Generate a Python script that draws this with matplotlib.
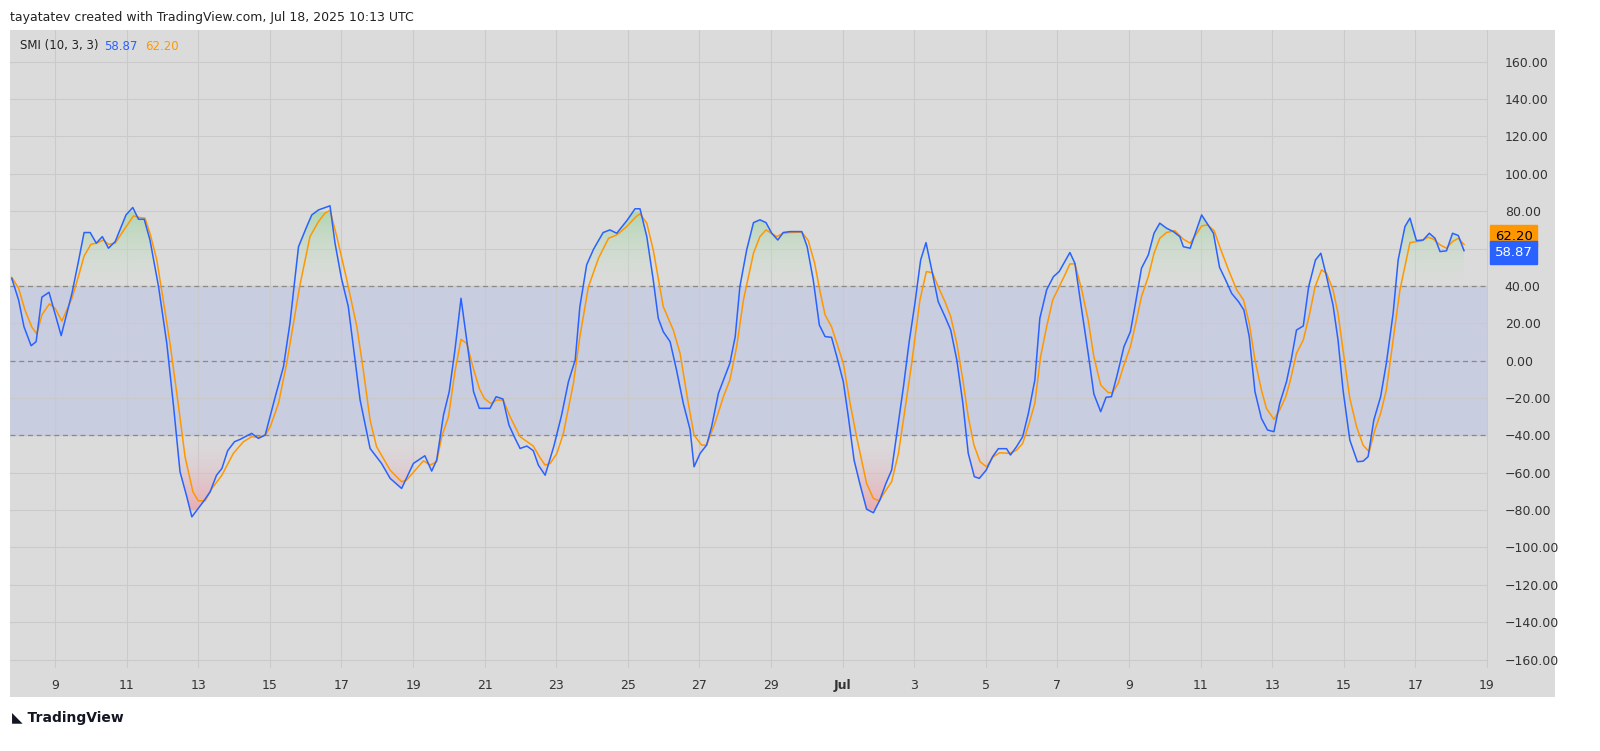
import numpy as np
import matplotlib
matplotlib.use("Agg")
import matplotlib.pyplot as plt
from matplotlib.path import Path
from matplotlib.patches import Rectangle

# day numbers: June d -> d, July d -> 30 + d
smi_t = [7.79,7.98,8.13,8.33,8.47,8.63,8.83,9.17,9.47,9.65,9.81,9.98,10.15,10.32,10.49,10.68,10.98,11.17,11.33,11.49,11.65,11.89,12.12,12.31,12.49,12.68,12.82,13.14,13.33,13.51,13.66,13.82,14.01,14.17,14.49,14.68,14.87,15.15,15.38,15.56,15.80,16.03,16.17,16.36,16.68,16.82,17.0,17.19,17.52,17.80,18.12,18.36,18.68,19.01,19.33,19.52,19.66,19.85,20.01,20.17,20.34,20.55,20.69,20.85,21.15,21.32,21.51,21.68,21.85,21.99,22.18,22.36,22.50,22.69,22.93,23.15,23.34,23.53,23.66,23.85,24.04,24.31,24.50,24.69,24.99,25.20,25.34,25.53,25.71,25.85,25.99,26.18,26.36,26.55,26.74,26.85,27.02,27.20,27.34,27.53,27.67,27.85,28.0,28.13,28.32,28.51,28.69,28.86,29.02,29.19,29.34,29.53,29.86,30.01,30.18,30.35,30.51,30.69,30.85,31.02,31.16,31.32,31.48,31.67,31.86,32.04,32.21,32.37,32.53,32.70,32.86,33.02,33.18,33.33,33.49,33.67,33.86,34.02,34.19,34.36,34.51,34.68,34.82,35.01,35.19,35.35,35.58,35.69,35.86,36.03,36.19,36.37,36.51,36.70,36.89,37.05,37.35,37.49,37.68,37.86,38.02,38.21,38.36,38.51,38.67,38.86,39.04,39.19,39.35,39.54,39.70,39.86,40.05,40.24,40.42,40.52,40.71,41.03,41.36,41.53,41.69,41.87,42.06,42.21,42.36,42.52,42.70,42.87,43.05,43.21,43.40,43.54,43.68,43.87,44.02,44.21,44.36,44.52,44.70,44.84,44.98,45.17,45.38,45.54,45.68,45.84,46.03,46.19,46.38,46.52,46.71,46.85,47.03,47.22,47.39,47.55,47.69,47.87,48.04,48.20,48.36]
smi_v = [44,32.5,18.2,8.0,10.2,34,36.6,13.4,36,53,68.6,68.6,62.9,66.4,60.2,63.8,78,82,75.7,75.7,64.6,39.6,9.3,-24.6,-59.5,-72.9,-83.6,-75.5,-70.2,-61.3,-57.7,-48.2,-43.4,-42.1,-38.9,-41.6,-39.8,-19.3,-3.2,20,61,71.8,78,80.7,82.9,62.9,44,29,-21,-47,-55,-63,-68.4,-55,-50.9,-59.1,-53.2,-29.1,-16.6,5.7,33.4,3.9,-16.6,-25.5,-25.5,-19.3,-20.5,-34.5,-41.6,-47,-45.7,-48.2,-55.9,-61.3,-46,-29.1,-11.3,0.4,28.9,51.3,59.6,68.6,70,68.2,75.4,81.3,81.3,66.4,43.2,22.7,15.5,10.2,-5,-22.9,-37,-56.8,-49.6,-45.2,-35.4,-17.5,-10.4,-1.4,12.9,39.6,59.3,73.9,75.4,73.9,68.2,64.6,68.6,69.1,69.1,61,43.2,19.1,12.9,12.5,1.3,-11.3,-30,-53.2,-65.7,-79.5,-81.4,-74.6,-65.7,-58.6,-37.1,-13.9,10.2,30.7,53.9,63.2,48.6,31.6,23.6,16.4,0.4,-22.9,-49.6,-62.1,-63,-58.6,-51.4,-47.1,-47.1,-50.5,-46,-40.7,-28.2,-10.4,22.7,37.9,45,47.7,57.9,52.1,27.1,3.9,-17.9,-27.3,-19.6,-19.3,-7.7,7.5,15.5,31.6,49.5,56.6,68.2,73.6,70.9,69.1,66.4,61,60.2,78,68.2,50,43.6,36,31.6,27.1,12.9,-16.6,-30.9,-37.1,-38,-22.9,-11.3,1.3,16.4,18.6,39.6,53.9,57.5,45,29.8,11.1,-15.7,-42.5,-54.1,-53.8,-51.4,-31.8,-19.3,-1.4,25.4,53.9,71.8,76.3,64.3,64.6,68.2,65.5,58.4,58.8,68.2,67,58.87]

sig_t = [7.79,7.98,8.16,8.35,8.49,8.63,8.84,9.0,9.19,9.47,9.65,9.81,10.0,10.16,10.35,10.49,10.68,10.86,11.05,11.19,11.37,11.51,11.65,11.84,12.02,12.21,12.45,12.63,12.85,13.0,13.19,13.38,13.66,13.98,14.26,14.49,14.68,14.87,15.01,15.24,15.47,15.66,15.84,16.12,16.36,16.54,16.68,16.87,17.15,17.43,17.61,17.80,17.98,18.36,18.50,18.68,18.82,19.06,19.29,19.48,19.66,19.80,19.99,20.17,20.34,20.50,20.67,20.85,20.99,21.17,21.34,21.52,21.71,21.99,22.36,22.53,22.69,22.83,23.02,23.20,23.48,23.66,23.90,24.18,24.46,24.69,24.97,25.23,25.34,25.53,25.71,25.99,26.27,26.46,26.69,26.85,27.06,27.20,27.43,27.67,27.85,28.04,28.23,28.51,28.69,28.86,29.16,29.34,29.53,29.86,30.04,30.22,30.36,30.51,30.69,31.02,31.21,31.39,31.67,31.86,32.02,32.18,32.37,32.56,32.74,32.93,33.16,33.34,33.51,33.67,33.86,34.02,34.19,34.36,34.51,34.67,34.84,35.02,35.21,35.39,35.67,35.86,36.03,36.21,36.37,36.53,36.70,36.87,37.03,37.21,37.35,37.49,37.68,37.86,38.02,38.21,38.42,38.54,38.70,38.86,39.04,39.19,39.35,39.54,39.70,39.86,40.05,40.28,40.52,40.71,41.03,41.19,41.38,41.55,41.78,42.01,42.20,42.36,42.52,42.70,42.84,43.05,43.21,43.38,43.51,43.68,43.87,44.04,44.20,44.38,44.52,44.70,44.84,44.98,45.17,45.36,45.54,45.71,45.87,46.03,46.19,46.38,46.57,46.85,47.17,47.35,47.51,47.69,47.87,48.04,48.20,48.36]
sig_v = [44.6,38.8,27,18,14.3,24.5,30.4,28,21.2,33.4,45,56,62.3,62.9,64.6,62.3,62.9,68.2,73.6,77.5,76.6,76.3,68.2,54,32.5,9.3,-24.6,-51.4,-70.2,-75,-75,-68.4,-61.3,-49.6,-43.4,-40.7,-41,-39.8,-35.4,-22.9,-1.4,20,40.5,66.4,74.5,79,80.4,66.4,43.2,18.2,-5,-31.8,-46,-58.6,-61.3,-64.8,-63.9,-58.6,-53.6,-55.9,-54.1,-40.7,-30,-5.9,11.4,9.3,-3.2,-14.8,-20.2,-22.9,-21.1,-21.1,-30,-40.7,-45.7,-51.4,-55.9,-55,-49.6,-38.9,-12.1,12.9,39.6,54.8,65.5,67.3,71.8,77.1,78.6,73.6,59.3,28.9,16.4,3.9,-22.9,-39.8,-45.2,-45.2,-33.6,-19.3,-10.4,7.5,32.5,57.5,66.4,70,66.4,68.2,68.6,68.8,64.3,52.1,37.9,24.5,18.2,-1.4,-22.9,-40.7,-65.7,-73.8,-75,-70.2,-64.8,-49.6,-26.4,-1.4,32.5,47.7,47.1,39.6,31.6,23.6,9.3,-10.4,-30,-45.2,-54.1,-56.8,-51.4,-49.3,-49.6,-47.9,-44.3,-33.6,-22.9,2.1,18.2,32.5,38.8,45.9,51.8,51.8,37.9,21.8,2.1,-13,-17.1,-17.1,-12.1,-2.3,7.5,20,34.3,45,57.5,65.5,68.6,69.6,65,62.9,72.1,72.7,69.6,60.2,48.6,37.9,32.5,20,0.4,-15.7,-25.5,-31.4,-26.4,-19.3,-10.4,3.9,11.1,24.5,39.6,48.6,46.8,37.9,25.4,5.7,-20.2,-35.4,-45.2,-48.8,-37.1,-28.2,-15.7,11.1,37.9,63.2,64.1,66.1,65,62,60.2,63.8,65.5,62.20]

tick_days = [9,11,13,15,17,19,21,23,25,27,29,31,33,35,37,39,41,43,45,47,49]
tick_labels = ["9","11","13","15","17","19","21","23","25","27","29","Jul","3","5","7","9","11","13","15","17","19"]
y_ticks = list(range(-160, 161, 20))

BLUE = "#2962ff"; ORANGE = "#ff9800"; BG = "#dbdbdb"
XLIM = (7.74, 49.03); YLIM = (-164.5, 177)

fig = plt.figure(figsize=(16, 7.51), dpi=100)
fig.patch.set_facecolor("white")
fig.patches.append(Rectangle((10/1600, (751-697)/751), 1545/1600, 667/751,
                             transform=fig.transFigure, facecolor=BG, edgecolor="none", zorder=-5))
ax = fig.add_axes([10/1600, (751-668)/751, 1478/1600, 638/751])
ax.set_zorder(1)
ax.set_facecolor(BG)

ax.set_xticks(tick_days)
ax.set_xticklabels(tick_labels)
for lab in ax.get_xticklabels():
    if lab.get_text() == "Jul":
        lab.set_fontweight("bold")
ax.set_yticks(y_ticks)
# 60.00 is hidden behind the value tags in the reference
ax.set_yticklabels(["" if v == 60 else f"{v:.2f}".replace("-", "\u2212") for v in y_ticks])
ax.yaxis.tick_right()
ax.tick_params(length=0, labelsize=9, colors="#333333", pad=8)
ax.tick_params(axis="y", pad=12)
ax.grid(True, color="#cacaca", linewidth=0.8)
for s in ax.spines.values():
    s.set_visible(False)

ax.axhspan(-40, 40, color="#c8cde0", zorder=1)
for h in (40, 0, -40):
    ax.axhline(h, color="#8a8a8a", linestyle=(0, (4, 3)), linewidth=0.9, zorder=2)

t = np.array(smi_t); v = np.array(smi_v)

def grad_fill(y1, y2, c_from, c_to, ylo, yhi):
    poly = ax.fill_between(t, y1, y2, interpolate=True, color="none", zorder=2)
    paths = poly.get_paths()
    if not paths:
        return
    cp = Path.make_compound_path(*paths)
    n = 256
    grad = np.zeros((n, 1, 4))
    f = np.linspace(0, 1, n)[:, None]
    grad[:, 0, :] = (1 - f) * np.array(c_from) + f * np.array(c_to)
    im = ax.imshow(grad, extent=[t[0], t[-1], ylo, yhi], origin="lower",
                   aspect="auto", zorder=2, interpolation="bilinear")
    im.set_clip_path(cp, transform=ax.transData)

grad_fill(np.maximum(v, 40), 40, (0.82, 0.88, 0.82, 0.0), (0.70, 0.84, 0.70, 1.0), 40, 80)
grad_fill(-40, np.minimum(v, -40), (0.92, 0.68, 0.70, 1.0), (0.85, 0.80, 0.85, 0.0), -80, -40)

ax.plot(sig_t, sig_v, color=ORANGE, linewidth=1.1, zorder=3)
ax.plot(smi_t, smi_v, color=BLUE, linewidth=1.1, zorder=4)
ax.set_xlim(*XLIM)
ax.set_ylim(*YLIM)

def tag(val, text, color, tc):
    ax.annotate(text, xy=(1.0, val), xycoords=("axes fraction", "data"),
                xytext=(5, 0), textcoords="offset points", va="center", ha="left",
                fontsize=9.5, color=tc, zorder=6, annotation_clip=False,
                bbox=dict(boxstyle="square,pad=0.35", fc=color, ec=color))
tag(sig_v[-1] + 4.5, f"{sig_v[-1]:.2f}", ORANGE, "black")
tag(smi_v[-1] - 1.0, f"{smi_v[-1]:.2f}", BLUE, "white")

fig.text(20/1600, 1 - 46/751, "SMI (10, 3, 3)", fontsize=8.5, color="#222222", va="center")
fig.text(104/1600, 1 - 46/751, f"{smi_v[-1]:.2f}", fontsize=8.5, color=BLUE, va="center")
fig.text(145/1600, 1 - 46/751, f"{sig_v[-1]:.2f}", fontsize=8.5, color=ORANGE, va="center")
fig.text(10/1600, 1 - 17/751, "tayatatev created with TradingView.com, Jul 18, 2025 10:13 UTC",
         fontsize=9, color="#222222", va="center")
fig.text(12/1600, 1 - 718/751, "\u25e3 TradingView", fontsize=10, fontweight="bold",
         color="#131722", va="center")

fig.savefig("out.png", dpi=100, facecolor="white")
